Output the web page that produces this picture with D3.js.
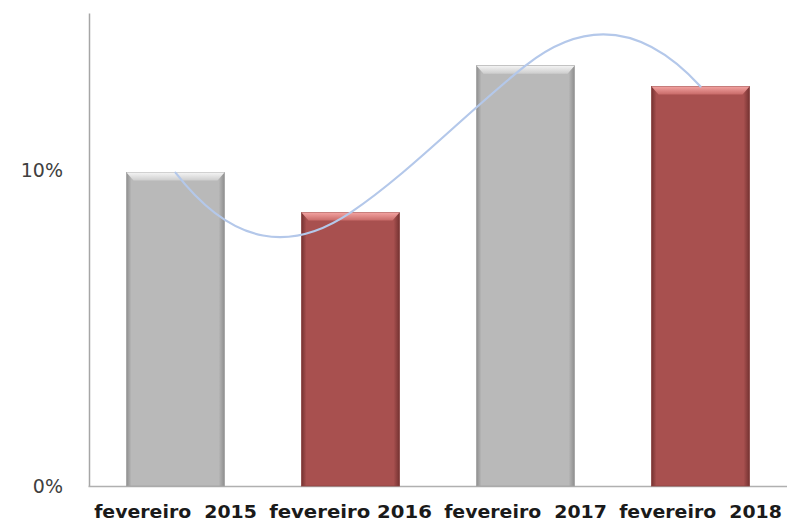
<!DOCTYPE html>
<html>
<head>
<meta charset="utf-8">
<script src="https://cdn.jsdelivr.net/npm/d3@7"></script>
<style>
    html, body { margin: 0; padding: 0; background: #fff; }
    #c { width: 787px; height: 523px; }
    text { white-space: pre; }
</style>
</head>
<body>
<div id="c"></div>
<script>
"use strict";

// values
const categories = ["fevereiro  2015", "fevereiro 2016", "fevereiro  2017", "fevereiro  2018"]
const values = [0.0994, 0.0867, 0.1333, 0.1267]
const yTicks = [0, 0.1]
const yMax = 0.15

// the smoothed line swings much further than catmull-rom would
const SWING = 2.2
const END = 1.9

let svg, xScale, yScale

window.onload = function() {
    createChart()
    drawBars()
    drawLine()
}

function createChart() {
    svg = d3.select('#c').append('svg')
        .attr('width', 787)
        .attr('height', 523)

    xScale = d3.scaleBand()
        .domain(categories)
        .range([88, 788])
        .paddingInner(0.44)
        .paddingOuter(0.22)
    yScale = d3.scaleLinear()
        .domain([0, yMax])
        .range([486, 13])

    let defs = svg.append('defs')
    addGradients(defs, 'gray', '#8e8e8e', '#b9b9b9', '#f4f4f4', '#cdcdcd')
    addGradients(defs, 'red', '#743231', '#a8504f', '#f3a3a1', '#c86a68')

    let yAxis = svg.append('g')
        .attr('transform', 'translate(89,0)')
        .call(d3.axisLeft(yScale)
            .tickValues(yTicks)
            .tickFormat(d3.format('.0%'))
            .tickSize(0).tickSizeOuter(0)
            .tickPadding(26))
    yAxis.select('.domain').attr('stroke', '#a6a6a6').attr('stroke-width', 1.5)
    yAxis.selectAll('text')
        .attr('fill', '#404040')
        .style('font-family', '"DejaVu Sans", Verdana, sans-serif')
        .style('font-size', '19px')

    let xAxis = svg.append('g')
        .attr('transform', 'translate(0,486)')
        .call(d3.axisBottom(xScale).tickSize(0).tickSizeOuter(0).tickPadding(19))
    xAxis.select('.domain').attr('stroke', '#b0b0b0').attr('stroke-width', 1.5)
    xAxis.selectAll('text')
        .attr('fill', '#1a1a1a')
        .style('font-family', '"DejaVu Sans", Verdana, sans-serif')
        .style('font-size', '18px')
        .style('font-weight', 'bold')
        .attr('textLength', xScale.step() * 0.93)
        .attr('lengthAdjust', 'spacingAndGlyphs')
}

function addGradients(defs, name, dark, base, light, mid) {
    let side = defs.append('linearGradient').attr('id', 'side-' + name)
        .attr('x1', 0).attr('x2', 1).attr('y1', 0).attr('y2', 0)
    side.append('stop').attr('offset', '0%').attr('stop-color', dark)
    side.append('stop').attr('offset', '5%').attr('stop-color', base)
    side.append('stop').attr('offset', '94%').attr('stop-color', base)
    side.append('stop').attr('offset', '100%').attr('stop-color', dark)

    let top = defs.append('linearGradient').attr('id', 'top-' + name)
        .attr('x1', 0).attr('x2', 0).attr('y1', 0).attr('y2', 1)
    top.append('stop').attr('offset', '0%').attr('stop-color', light)
    top.append('stop').attr('offset', '100%').attr('stop-color', mid)
}

function drawBars() {
    const w = xScale.bandwidth()
    let bars = svg.append('g').selectAll('g')
        .data(values)
        .enter()
        .append('g')

    bars.append('rect')
        .attr('x', (d, i) => xScale(categories[i]))
        .attr('y', d => yScale(d))
        .attr('width', w)
        .attr('height', d => yScale(0) - yScale(d))
        .attr('fill', (d, i) => 'url(#side-' + (i % 2 ? 'red' : 'gray') + ')')
        .attr('stroke', (d, i) => i % 2 ? '#8c4442' : '#a2a2a2')
        .attr('stroke-width', 0.8)

    // bevel on the top edge
    bars.append('path')
        .attr('d', (d, i) => {
            const x0 = xScale(categories[i]), y0 = yScale(d)
            return 'M' + x0 + ',' + y0 + 'L' + (x0 + w) + ',' + y0 +
                'L' + (x0 + w - 7) + ',' + (y0 + 8) + 'L' + (x0 + 7) + ',' + (y0 + 8) + 'Z'
        })
        .attr('fill', (d, i) => 'url(#top-' + (i % 2 ? 'red' : 'gray') + ')')
}

function curveSwing(context) {
    let px, py
    return {
        areaStart() {},
        areaEnd() {},
        lineStart() { px = []; py = [] },
        point(x, y) { px.push(+x); py.push(+y) },
        lineEnd() {
            const n = px.length
            if (n == 0) return
            context.moveTo(px[0], py[0])
            if (n == 1) return
            // slope at each point, per step
            let m = py.map((y, i) => (i > 0 && i < n - 1) ? SWING * (py[i + 1] - py[i - 1]) / 2 : 0)
            if (n > 2) {
                m[0] = END * (3 * (py[1] - py[0]) - m[1]) / 2
                m[n - 1] = END * (3 * (py[n - 1] - py[n - 2]) - m[n - 2]) / 2
            } else {
                m[0] = m[1] = py[1] - py[0]
            }
            for (let i = 0; i + 1 < n; i++) {
                const dx = (px[i + 1] - px[i]) / 3
                context.bezierCurveTo(px[i] + dx, py[i] + m[i] / 3,
                    px[i + 1] - dx, py[i + 1] - m[i + 1] / 3,
                    px[i + 1], py[i + 1])
            }
        }
    }
}

function drawLine() {
    svg.append('path')
        .datum(values)
        .attr('fill', 'none')
        .attr('stroke', '#b4c8ea')
        .attr('stroke-width', 2.2)
        .attr('stroke-linecap', 'round')
        .attr('d', d3.line()
            .x((d, i) => xScale(categories[i]) + xScale.bandwidth() / 2)
            .y(d => yScale(d))
            .curve(curveSwing))
}
</script>
</body>
</html>
